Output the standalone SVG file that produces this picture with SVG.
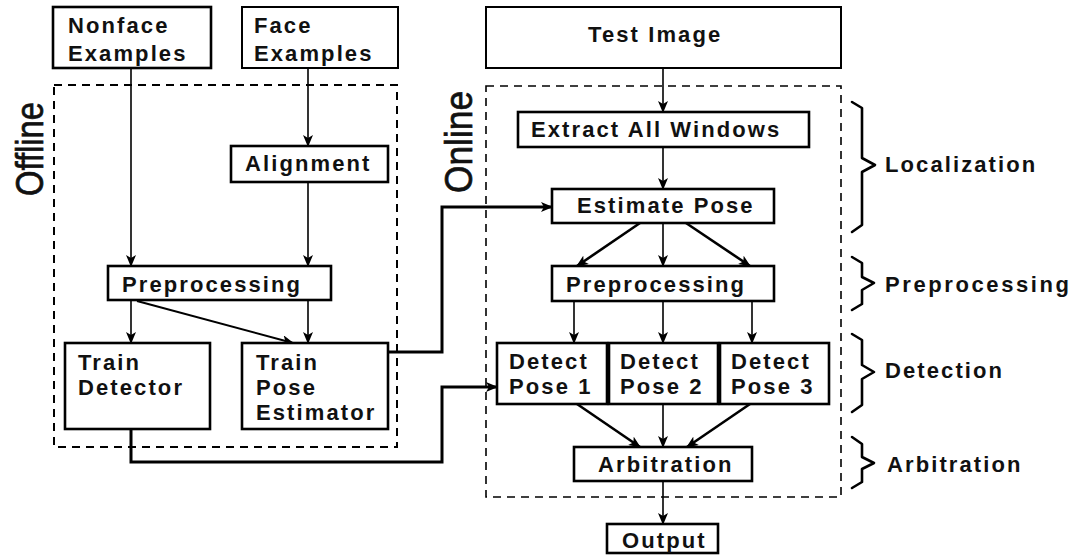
<svg xmlns="http://www.w3.org/2000/svg" width="1074" height="556" viewBox="0 0 1074 556">
  <defs>
    <style>
      .box { fill: #ffffff; stroke: #000000; stroke-width: 2.6; }
      .lbl { font-family: "Liberation Sans", Arial, sans-serif; font-weight: bold; font-size: 22px; letter-spacing: 2.1px; fill: #111111; }
      .side { font-family: "Liberation Sans", Arial, sans-serif; font-size: 38px; fill: #111111; stroke: #111111; stroke-width: 0.7; }
      .group { fill: none; stroke: #000000; stroke-width: 2; stroke-dasharray: 8 6; }
      .arr { fill: none; stroke: #000000; stroke-width: 1.6; marker-end: url(#head); }
      .arrd { fill: none; stroke: #000000; stroke-width: 2.6; marker-end: url(#head); }
      .feed { fill: none; stroke: #000000; stroke-width: 3; stroke-linejoin: miter; marker-end: url(#head); }
      .brace { fill: none; stroke: #000000; stroke-width: 2.6; stroke-linejoin: round; stroke-linecap: round; }
    </style>
    <marker id="head" viewBox="0 0 12 10" refX="11" refY="5" markerUnits="userSpaceOnUse" markerWidth="12" markerHeight="10" orient="auto">
      <path d="M0,0 L12,5 L0,10 L3,5 Z" fill="#000000"/>
    </marker>
  </defs>

  <rect width="1074" height="556" fill="#ffffff"/>

  <!-- dashed group frames -->
  <g id="offline-group">
    <rect class="group" x="54" y="85" width="343" height="362"/>
    <text class="side" transform="translate(43,196) rotate(-90)" textLength="94" lengthAdjust="spacingAndGlyphs">Offline</text>
  </g>
  <g id="online-group">
    <rect class="group" x="486" y="86" width="355" height="411" style="stroke-width:1.6"/>
    <text class="side" transform="translate(472,193) rotate(-90)" textLength="102" lengthAdjust="spacingAndGlyphs">Online</text>
  </g>

  <!-- connectors -->
  <g id="connectors">
    <line class="arr" x1="131" y1="68" x2="131" y2="266"/>
    <line class="arr" x1="308" y1="68" x2="308" y2="146"/>
    <line class="arr" x1="308" y1="182" x2="308" y2="266"/>
    <line class="arr" x1="131" y1="300" x2="131" y2="343"/>
    <line class="arr" x1="308" y1="300" x2="308" y2="343"/>
    <line class="arrd" x1="137" y1="301" x2="293" y2="343" style="stroke-width:2"/>
    <polyline class="feed" points="388,352 442,352 442,207 552,207"/>
    <polyline class="feed" points="131,429 131,462 442,462 442,387 497,387"/>
    <line class="arr" x1="663" y1="68" x2="663" y2="112"/>
    <line class="arr" x1="663" y1="147" x2="663" y2="189"/>
    <line class="arrd" x1="640" y1="223" x2="577" y2="266"/>
    <line class="arr" x1="663" y1="223" x2="663" y2="266"/>
    <line class="arrd" x1="686" y1="223" x2="750" y2="266"/>
    <line class="arr" x1="574" y1="301" x2="574" y2="343"/>
    <line class="arr" x1="663" y1="301" x2="663" y2="343"/>
    <line class="arr" x1="752" y1="301" x2="752" y2="343"/>
    <line class="arrd" x1="577" y1="404" x2="640" y2="447"/>
    <line class="arr" x1="663" y1="404" x2="663" y2="447"/>
    <line class="arrd" x1="750" y1="404" x2="687" y2="447"/>
    <line class="arr" x1="663" y1="481" x2="663" y2="524"/>
  </g>

  <!-- offline nodes -->
  <g id="nonface-examples">
    <rect class="box" x="53" y="7" width="158" height="61"/>
    <text class="lbl" x="68" y="33">Nonface</text>
    <text class="lbl" x="68" y="61">Examples</text>
  </g>
  <g id="face-examples">
    <rect class="box" x="242" y="7" width="156" height="61" style="stroke-width:2"/>
    <text class="lbl" x="254" y="33">Face</text>
    <text class="lbl" x="254" y="61">Examples</text>
  </g>
  <g id="alignment">
    <rect class="box" x="231" y="146" width="157" height="36"/>
    <text class="lbl" x="245" y="171">Alignment</text>
  </g>
  <g id="preprocessing-offline">
    <rect class="box" x="108" y="266" width="223" height="34"/>
    <text class="lbl" x="122" y="292">Preprocessing</text>
  </g>
  <g id="train-detector">
    <rect class="box" x="65" y="343" width="145" height="86"/>
    <text class="lbl" x="78" y="370">Train</text>
    <text class="lbl" x="78" y="395">Detector</text>
  </g>
  <g id="train-pose-estimator">
    <rect class="box" x="242" y="343" width="146" height="86"/>
    <text class="lbl" x="256" y="370">Train</text>
    <text class="lbl" x="256" y="395">Pose</text>
    <text class="lbl" x="256" y="420">Estimator</text>
  </g>

  <!-- online nodes -->
  <g id="test-image">
    <rect class="box" x="486" y="7" width="355" height="61" style="stroke-width:2"/>
    <text class="lbl" x="588" y="42">Test Image</text>
  </g>
  <g id="extract-all-windows">
    <rect class="box" x="518" y="112" width="291" height="35"/>
    <text class="lbl" x="531" y="137">Extract All Windows</text>
  </g>
  <g id="estimate-pose">
    <rect class="box" x="552" y="189" width="222" height="34"/>
    <text class="lbl" x="577" y="213">Estimate Pose</text>
  </g>
  <g id="preprocessing-online">
    <rect class="box" x="552" y="266" width="222" height="35"/>
    <text class="lbl" x="566" y="292">Preprocessing</text>
  </g>
  <g id="detect-pose-1">
    <rect class="box" x="497" y="343" width="110" height="61"/>
    <text class="lbl" x="509" y="369">Detect</text>
    <text class="lbl" x="509" y="394">Pose 1</text>
  </g>
  <g id="detect-pose-2">
    <rect class="box" x="609" y="343" width="109" height="61"/>
    <text class="lbl" x="620" y="369">Detect</text>
    <text class="lbl" x="620" y="394">Pose 2</text>
  </g>
  <g id="detect-pose-3">
    <rect class="box" x="720" y="343" width="109" height="61"/>
    <text class="lbl" x="731" y="369">Detect</text>
    <text class="lbl" x="731" y="394">Pose 3</text>
  </g>
  <g id="arbitration">
    <rect class="box" x="574" y="447" width="178" height="34"/>
    <text class="lbl" x="598" y="472">Arbitration</text>
  </g>
  <g id="output">
    <rect class="box" x="607" y="524" width="111" height="29"/>
    <text class="lbl" x="622" y="548">Output</text>
  </g>

  <!-- stage braces -->
  <g id="stage-localization">
    <polyline class="brace" points="852,102 862,108 862,158 875,165 862,172 862,225 852,232"/>
    <text class="lbl" x="885" y="172">Localization</text>
  </g>
  <g id="stage-preprocessing">
    <polyline class="brace" points="852,257 862,263 862,277 874,283 862,290 862,304 852,310"/>
    <text class="lbl" x="885" y="292" style="letter-spacing:2.6px">Preprocessing</text>
  </g>
  <g id="stage-detection">
    <polyline class="brace" points="852,334 862,340 862,365 874,372 862,379 862,405 852,412"/>
    <text class="lbl" x="885" y="378">Detection</text>
  </g>
  <g id="stage-arbitration">
    <polyline class="brace" points="852,437 862,444 862,457 874,463 862,469 862,482 852,488"/>
    <text class="lbl" x="887" y="472">Arbitration</text>
  </g>
</svg>
